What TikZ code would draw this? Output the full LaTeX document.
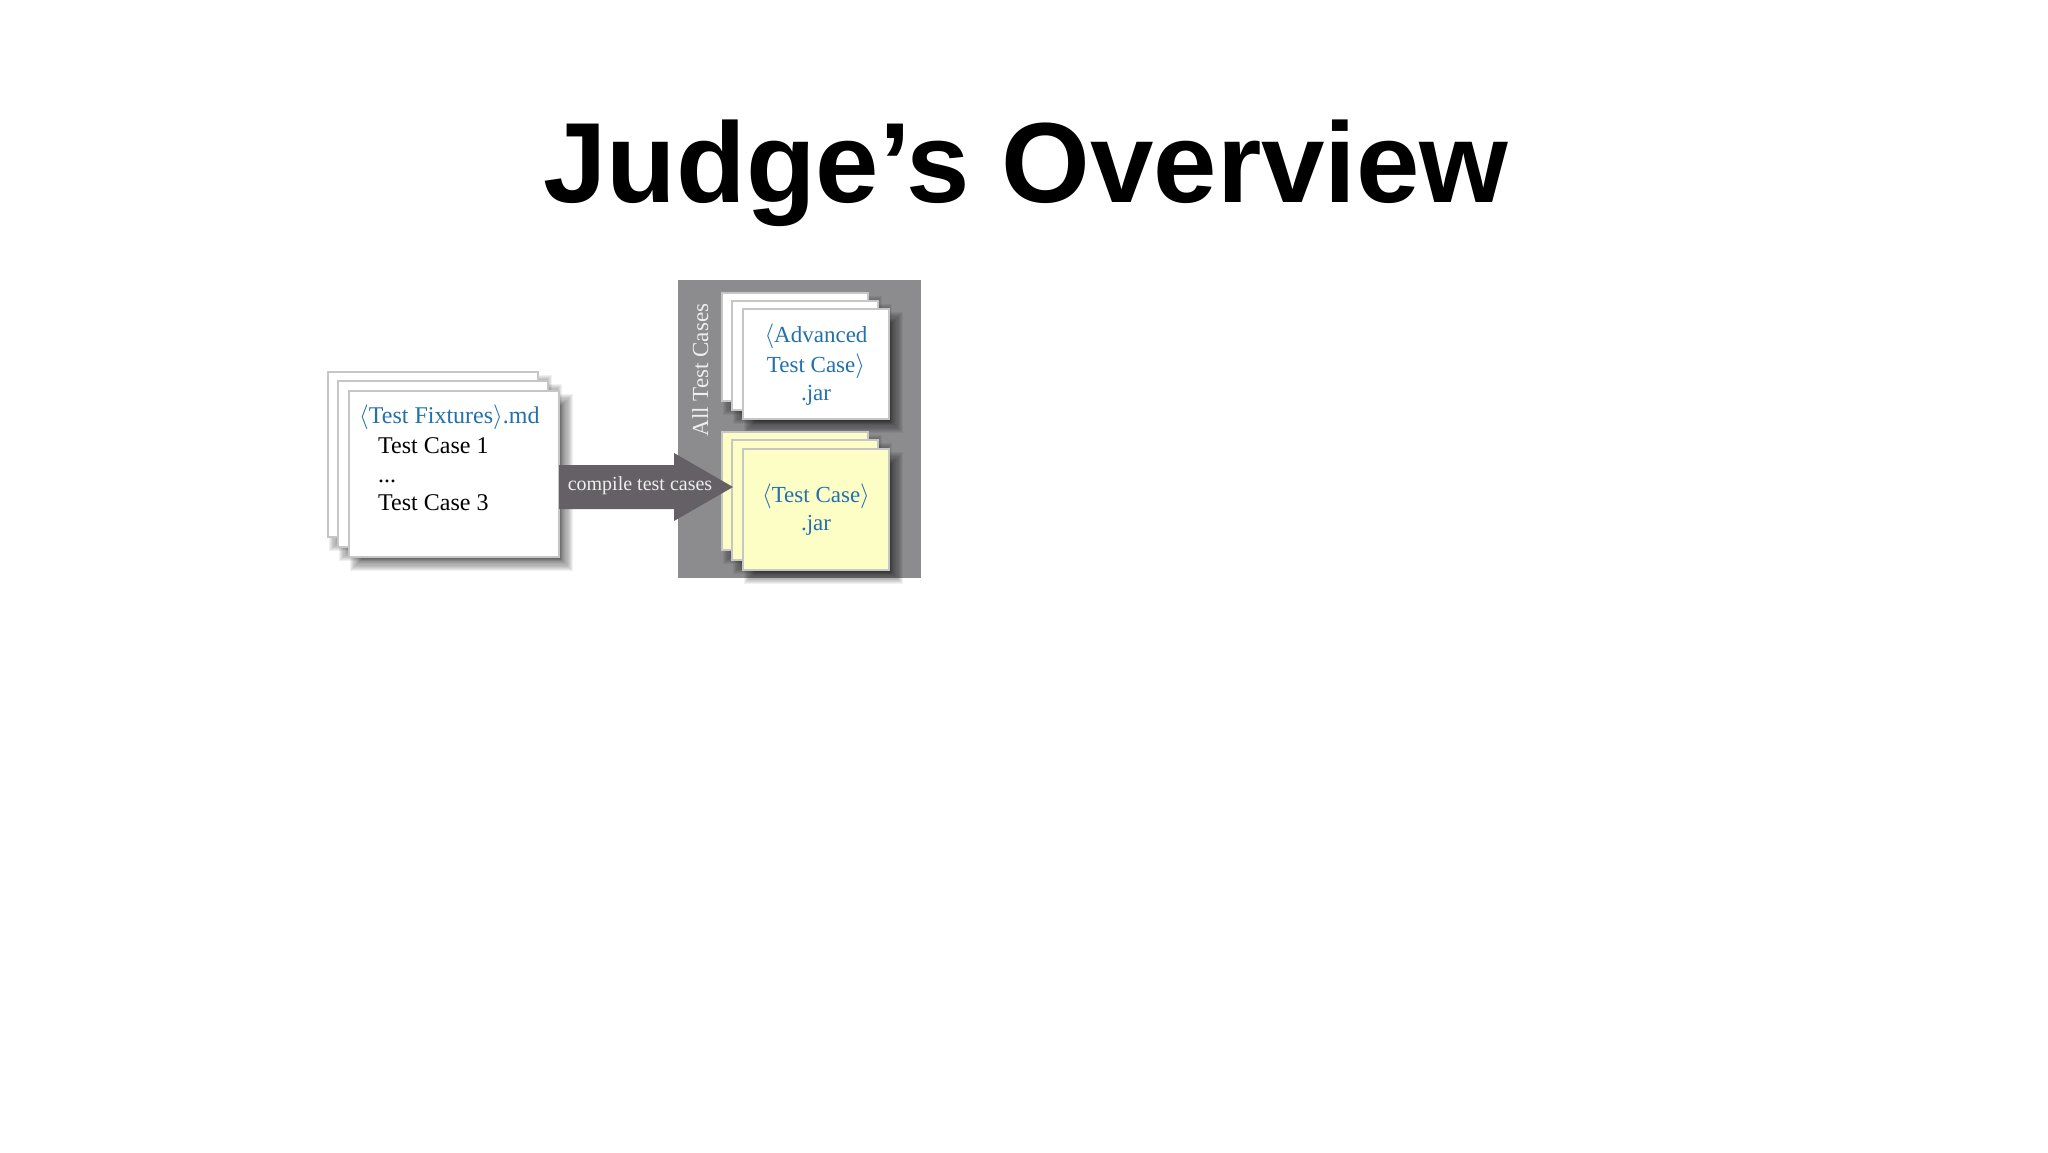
\documentclass[tikz,border=0pt]{standalone}
\usepackage{fontspec}
\setmainfont{Liberation Serif}
\newfontfamily\titlefont{Liberation Sans}
\usetikzlibrary{calc}
\definecolor{tblue}{HTML}{2270AC}
\definecolor{panelgray}{HTML}{8C8C8E}
\definecolor{arrowgray}{HTML}{646065}
\definecolor{sheetyellow}{HTML}{FDFDC6}
\definecolor{sheetedge}{HTML}{C6C6C6}
\definecolor{lbl}{HTML}{EEEEEE}
\newcommand\fsz[1]{\fontsize{#1}{#1}\selectfont}
% soft shadow: x0 y0 x1 y1
\newcommand\sheetshadow[4]{%
  \foreach \i in {0,...,11}{%
    \fill[black,opacity=0.055] (#1+\i*1.1+1,#2+\i*1.1+3) rectangle (#3+14-\i*1.1,#4+14-\i*1.1);
  }}
% name x y w h fill
\newcommand\papersheet[6]{%
  \sheetshadow{#2}{#3}{#2+#4}{#3+#5}
  \node[sheetbox, fill=#6, minimum width=#4, minimum height=#5, anchor=north west] (#1) at (#2,#3) {};}
\tikzset{
  sheetbox/.style={draw=sheetedge, line width=1.2pt, inner sep=0pt, outer sep=0pt},
  bluetxt/.style={text=tblue, inner sep=0pt, anchor=base},
  blacktxt/.style={text=black, inner sep=0pt, anchor=base west},
}
\begin{document}
\begin{tikzpicture}[x=1pt,y=-1pt]
\fill[white] (0,0) rectangle (2048,1152);
\useasboundingbox (0,0) rectangle (2048,1152);

% title
\node[font=\titlefont\bfseries\fsz{114}, anchor=base, inner sep=0pt] (title) at (1026,202) {Judge’s Overview};

% fixtures stack
\papersheet{fixB}{328}{372}{210}{165}{white}
\papersheet{fixM}{338}{381}{210}{166}{white}
\papersheet{fixF}{349}{391}{210}{166}{white}
\node[bluetxt, anchor=base west, font=\fsz{24}] (fixT) at (359,423) {$\langle$Test Fixtures$\rangle$.md};
\node[blacktxt, font=\fsz{24}] (tc1) at (378,453) {Test Case 1};
\node[blacktxt, font=\fsz{24}] (tcd) at (378,482) {...};
\node[blacktxt, font=\fsz{24}] (tc3) at (378,510) {Test Case 3};

% panel
\node[fill=panelgray, inner sep=0pt, outer sep=0pt, minimum width=243, minimum height=298, anchor=north west] (panel) at (678,280) {};
\node[rotate=90, anchor=base, inner sep=0pt, text=lbl, font=\fsz{23}] (allT) at (708,370) {All Test Cases};

% advanced stack
\papersheet{advB}{722}{293}{146}{108}{white}
\papersheet{advM}{732}{301}{146}{109}{white}
\papersheet{advF}{743}{309}{146}{110}{white}
\node[bluetxt, font=\fsz{23}] (adv1) at (816,342) {$\langle$Advanced};
\node[bluetxt, font=\fsz{23}] (adv2) at (816,372) {Test Case$\rangle$};
\node[bluetxt, font=\fsz{23}] (adv3) at (816,400) {.jar};

% test case stack
\papersheet{tcB}{722}{432}{146}{118}{sheetyellow}
\papersheet{tcM}{732}{440}{146}{120}{sheetyellow}
\papersheet{tcF}{743}{449}{146}{121}{sheetyellow}
\node[bluetxt, font=\fsz{23}] (tcj1) at (816,502) {$\langle$Test Case$\rangle$};
\node[bluetxt, font=\fsz{23}] (tcj2) at (816,530) {.jar};

% arrow
\coordinate (atip) at (733,487);
\coordinate (atail) at (fixF.east |- atip);
\coordinate (hbase) at (674,487);
\fill[arrowgray] ($(atail)+(0,-22)$) -- ($(hbase)+(0,-22)$) -- ($(hbase)+(0,-34)$) -- (atip)
  -- ($(hbase)+(0,34)$) -- ($(hbase)+(0,22)$) -- ($(atail)+(0,22)$) -- cycle;
\node[anchor=base, inner sep=0pt, text=lbl, font=\fsz{20}] (albl) at (640,490) {compile test cases};
\end{tikzpicture}
\end{document}
